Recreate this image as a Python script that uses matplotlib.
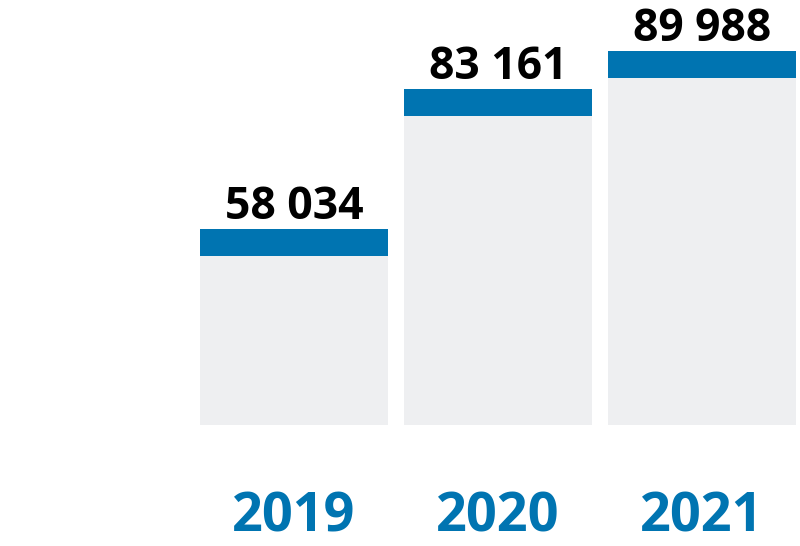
import matplotlib.pyplot as plt

years = ['2019', '2020', '2021']
values = [58034, 83161, 89988]
labels = ['58 034', '83 161', '89 988']

blue = '#0074b1'
grey = '#eeeff1'

plt.rcParams['font.family'] = ['Open Sans', 'DejaVu Sans']

fig = plt.figure(figsize=(8, 5.46), dpi=100)
ax = fig.add_axes([0, 0, 1, 1])

x = range(len(years))
floor = 22800      # where the grey boxes stop
band = 4850        # thickness of the blue cap

tops = [v - band for v in values]
ax.bar(x, [t - floor for t in tops], bottom=floor, width=0.92, color=grey)
ax.bar(x, band, bottom=tops, width=0.92, color=blue)

for i, v in enumerate(values):
    ax.annotate(labels[i], (i, v), xytext=(0, 7), textcoords='offset points',
                ha='center', va='baseline', fontsize=32, fontweight='bold', color='black')
    # keep the year labels' box inside the figure
    ax.annotate(years[i], (i, 0), xycoords=('data', 'figure pixels'),
                xytext=(0, 1), textcoords='offset pixels',
                ha='center', va='bottom', fontsize=39, fontweight='bold', color=blue)

ax.set_xlim(-1.441, 2.48)
ax.set_ylim(1077, 99100)
ax.axis('off')

plt.savefig('out.png', dpi=100)
